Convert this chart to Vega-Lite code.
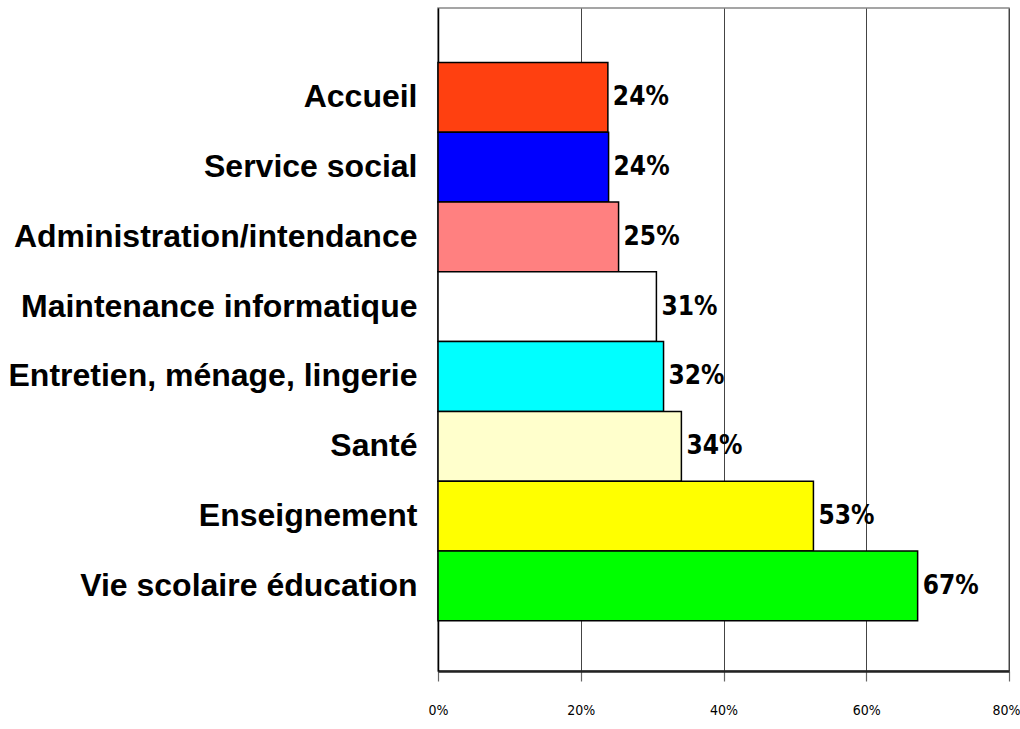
{
  "$schema": "https://vega.github.io/schema/vega-lite/v6.json",
  "autosize": {"type": "none"},
  "padding": {"left": 438, "top": 8, "right": 11, "bottom": 58},
  "width": 571,
  "height": 663,
  "background": "white",
  "config": {
    "view": {"stroke": "#888888", "strokeWidth": 1.5}
  },
  "data": {
    "values": [
      {"service": "Accueil", "pct": 0.238, "color": "#FF4010"},
      {"service": "Service social", "pct": 0.239, "color": "#0000FF"},
      {"service": "Administration/intendance", "pct": 0.253, "color": "#FF8080"},
      {"service": "Maintenance informatique", "pct": 0.306, "color": "#FFFFFF"},
      {"service": "Entretien, ménage, lingerie", "pct": 0.316, "color": "#00FFFF"},
      {"service": "Santé", "pct": 0.341, "color": "#FFFFCC"},
      {"service": "Enseignement", "pct": 0.526, "color": "#FFFF00"},
      {"service": "Vie scolaire éducation", "pct": 0.672, "color": "#00FF00"}
    ]
  },
  "encoding": {
    "y": {
      "field": "service",
      "type": "nominal",
      "sort": null,
      "title": null,
      "scale": {"paddingInner": 0, "paddingOuter": 0.75, "align": 0.52},
      "axis": {
        "domainColor": "#000000",
        "domainWidth": 1.5,
        "ticks": false,
        "grid": false,
        "labelFont": "Liberation Sans",
        "labelFontSize": 32,
        "labelFontWeight": "bold",
        "labelColor": "#000000",
        "labelPadding": 21,
        "labelLimit": 0
      }
    },
    "x": {
      "field": "pct",
      "type": "quantitative",
      "title": null,
      "scale": {"domain": [0, 0.8], "nice": false},
      "axis": {
        "values": [0, 0.2, 0.4, 0.6, 0.8],
        "format": ".0%",
        "domainColor": "#222222",
        "domainWidth": 2.5,
        "tickColor": "#666666",
        "tickSize": 10,
        "tickWidth": 1.2,
        "gridColor": "#444444",
        "gridWidth": 1,
        "labelFont": "DejaVu Sans Condensed",
        "labelFontSize": 14,
        "labelColor": "#000000",
        "labelPadding": 22,
        "labelFlush": false,
        "labelOffset": {"condition": {"test": "datum.value >= 0.8", "value": -3}, "value": 0}
      }
    }
  },
  "layer": [
    {
      "mark": {"type": "bar", "stroke": "#000000", "strokeWidth": 1.5},
      "encoding": {
        "color": {"field": "color", "type": "nominal", "scale": null, "legend": null}
      }
    },
    {
      "mark": {
        "type": "text",
        "align": "left",
        "baseline": "middle",
        "dx": 5,
        "font": "DejaVu Sans Condensed",
        "fontSize": 26,
        "fontWeight": "bold",
        "color": "#000000"
      },
      "encoding": {
        "text": {"field": "pct", "type": "quantitative", "format": ".0%"}
      }
    }
  ]
}
